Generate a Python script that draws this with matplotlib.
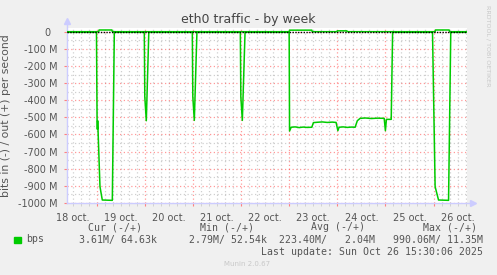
import numpy as np
import matplotlib
matplotlib.use("Agg")
import matplotlib.pyplot as plt
from matplotlib.ticker import FixedLocator, FuncFormatter
from matplotlib.patches import Rectangle

# hours since 18 oct 00:00, values in Mbit/s (in = negative)
in_hours = [9.2, 23.9, 24.2, 24.35, 24.5, 24.65, 25.65, 26.8, 31.8, 32.8,
            47.75, 48.0, 48.75, 50.0,
            71.7, 71.95, 72.7, 74.0,
            95.65, 95.9, 96.65, 98.0,
            120.0, 120.2, 121.0, 123.0, 125.0, 127.0, 129.0, 131.3, 132.1,
            134.0, 136.5, 139.0, 141.5, 143.4, 144.3, 144.9, 147.0, 149.0,
            151.0, 152.9, 154.0, 155.4, 158.0, 161.0, 164.0, 167.4, 168.0,
            168.5, 170.9, 171.6,
            191.5, 192.8, 194.5, 199.5, 200.6, 208.7]
in_vals = [-3.6, -3.6, -520, -570, -520, -565, -905, -983, -985, -3.6,
           -3.6, -380, -520, -3.6,
           -3.6, -380, -518, -3.6,
           -3.6, -380, -518, -3.6,
           -3.6, -580, -558, -556, -560, -557, -559, -558, -531,
           -529, -527, -530, -528, -530, -578, -558, -556, -559,
           -557, -558, -520, -506, -504, -507, -505, -506, -578,
           -512, -512, -3.6,
           -3.6, -905, -983, -985, -3.6, -3.6]

out_hours = [9.2, 25.0, 25.2, 31.6, 31.8, 120.0, 120.2, 131.3, 131.5,
             143.8, 144.0, 148.8, 149.0, 192.8, 193.0, 199.8, 200.0, 208.7]
out_vals = [0.06, 0.06, 10, 10, 0.06, 0.06, 9, 9, 0.06,
            0.06, 5, 5, 0.06, 0.06, 10, 10, 0.06, 0.06]

day_labels = ["18 oct.", "19 oct.", "20 oct.", "21 oct.", "22 oct.",
              "23 oct.", "24 oct.", "25 oct.", "26 oct."]
y_major = [0, -100, -200, -300, -400, -500, -600, -700, -800, -900, -1000]

legend_heads = ["Cur (-/+)", "Min (-/+)", "Avg (-/+)", "Max (-/+)"]
legend_vals = ["3.61M/ 64.63k", "2.79M/ 52.54k", "223.40M/   2.04M", "990.06M/ 11.35M"]

green = "#00cc00"
txt = "#555555"
axcol = "#ccccff"

fig = plt.figure(figsize=(4.97, 2.75), dpi=100)
fig.patch.set_facecolor("#f0f0f0")
W, H = 497.0, 275.0
ax = fig.add_axes([67 / W, 1 - 203 / H, 400 / W, 175 / H])
ax.set_facecolor("white")

ax.set_xlim(9.2, 208.7)
ax.set_ylim(-1000.5, 21.6)

# grid
midnights = [24 * d for d in range(1, 9)]
minors = [h for h in range(12, 209, 4) if h % 24 != 0]
ax.xaxis.set_major_locator(FixedLocator(midnights))
ax.xaxis.set_minor_locator(FixedLocator(minors))
ax.xaxis.set_major_formatter(FuncFormatter(lambda v, p: ""))
ax.xaxis.set_minor_formatter(FuncFormatter(
    lambda v, p: day_labels[int(v // 24)] if int(v) % 24 == 12 else ""))
ax.yaxis.set_major_locator(FixedLocator(y_major))
ax.yaxis.set_minor_locator(FixedLocator([-50 - 100 * i for i in range(10)]))
ax.set_yticklabels(["0  "] + ["%d M" % v for v in y_major[1:]])

ax.grid(which="major", color="#ff0000", alpha=0.4, linestyle=(0, (1, 2)), lw=0.9)
ax.grid(which="minor", color="#bbbbbb", alpha=0.7, linestyle=(0, (1, 2)), lw=0.9)
ax.tick_params(which="major", axis="x", length=2, color="#ff8080",
               labelsize=7, labelcolor=txt, pad=5)
ax.tick_params(which="minor", axis="x", length=2, color="#cccccc",
               labelsize=7, labelcolor=txt, pad=5)
ax.tick_params(which="major", axis="y", length=2, color="#ff8080",
               labelsize=7, labelcolor=txt, pad=5)
ax.tick_params(which="minor", axis="y", length=0)

for s in ["top", "right", "left", "bottom"]:
    ax.spines[s].set_visible(False)
ax.plot([0, 0], [0, 1.04], transform=ax.transAxes, color=axcol, lw=1, clip_on=False)
ax.plot([0, 1.015], [0, 0], transform=ax.transAxes, color=axcol, lw=1, clip_on=False)
ax.plot([0], [1.04], marker="^", color=axcol, ms=5, transform=ax.transAxes, clip_on=False)
ax.plot([1.015], [0], marker=">", color=axcol, ms=5, transform=ax.transAxes, clip_on=False)

# series
ax.plot(out_hours, out_vals, color=green, lw=1.1)
ax.plot(in_hours, in_vals, color=green, lw=1.1)
ax.axhline(0, color="black", lw=1.0, linestyle=(0, (1, 1)))

ax.set_ylabel("bits in (-) / out (+) per second", fontsize=7.8, color=txt)
ax.yaxis.set_label_coords(-(67 - 11) / 400.0, 0.5)
fig.text(248.5 / W, 1 - 19.5 / H, "eth0 traffic - by week", ha="center", va="center",
         fontsize=9, color="#444444")
fig.text(488.5 / W, 1 - 5 / H, "RRDTOOL / TOBI OETIKER", rotation=-90, ha="center",
         va="top", fontsize=4.6, color="#c8c8c8")

# legend
mono = "DejaVu Sans Mono"
fig.patches.append(Rectangle((14 / W, 1 - 243 / H), 6.5 / W, 6.5 / H,
                             transform=fig.transFigure, color=green))
fig.text(26.5 / W, 1 - 239.5 / H, "bps", ha="left", va="center", family=mono,
         fontsize=7.1, color=txt)
head_x = [141.7, 254, 365, 476.7]
val_x = [157.3, 266.7, 375, 482.7]
for hx, hs in zip(head_x, legend_heads):
    fig.text(hx / W, 1 - 227 / H, hs, ha="right", va="center", family=mono,
             fontsize=7.1, color=txt)
for vx, vs in zip(val_x, legend_vals):
    fig.text(vx / W, 1 - 239.5 / H, vs, ha="right", va="center", family=mono,
             fontsize=7.1, color=txt)
fig.text(482.7 / W, 1 - 252 / H, "Last update: Sun Oct 26 15:30:06 2025", ha="right",
         va="center", family=mono, fontsize=7.1, color=txt)
fig.text(247.5 / W, 1 - 263.5 / H, "Munin 2.0.67", ha="center", va="center",
         fontsize=5, color="#c8c8c8")

fig.savefig("out.png", dpi=100, facecolor=fig.get_facecolor())
